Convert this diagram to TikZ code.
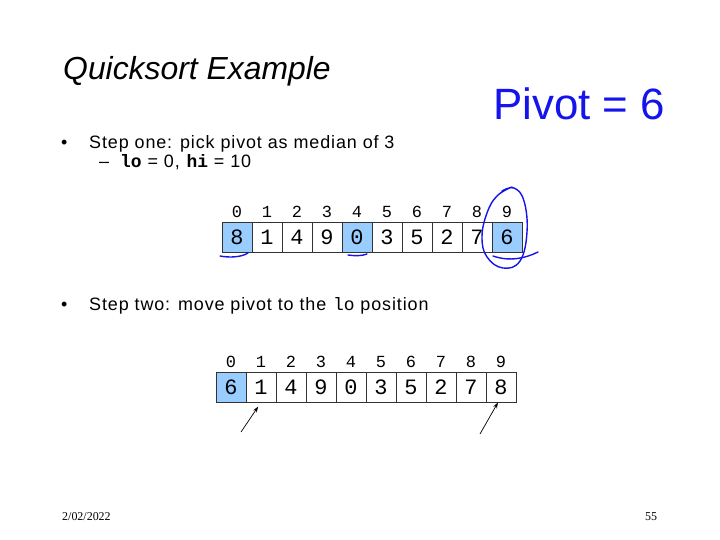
\documentclass[tikz,border=0pt]{standalone}
\usepackage{fontspec}
\setmainfont{Liberation Sans}
\setmonofont{Liberation Mono}
\newfontfamily\bodyfont[LetterSpace=5]{Liberation Sans}
\newfontfamily\datefont{Liberation Serif}
\usetikzlibrary{arrows.meta}
\definecolor{pivotblue}{RGB}{153,204,255}
\definecolor{inkblue}{RGB}{20,20,235}

\tikzset{
  cell/.style={draw=black!80, line width=0.8bp, minimum size=30bp, inner sep=0pt,
    font=\fontsize{22}{22}\selectfont\ttfamily},
  idx/.style={inner sep=0pt, font=\fontsize{17}{17}\selectfont\ttfamily},
  ink/.style={draw=inkblue, line width=1.4bp, line cap=round, line join=round},
  pointer/.style={draw=black, line width=0.7bp, -{Stealth[length=6bp,width=4bp]}},
}

\begin{document}
\begin{tikzpicture}[x=1bp,y=-1bp]
  \useasboundingbox (0,0) rectangle (720,540);

  \node[anchor=base west, inner sep=0pt, font=\fontsize{32}{38}\selectfont\itshape]
    (title) at (63,80) {Quicksort Example};

  \begin{scope}[every node/.style={anchor=base west, inner sep=0pt,
      font=\fontsize{18}{22}\selectfont\bodyfont}]
    \node (dot1)  at (61,148.5)  {\textbullet};
    \node (step1) at (89,148.5)  {Step one: pick pivot as median of 3};
    \node (dash1) at (99,168)    {\textendash};
    \node (sub1)  at (120,168)   {\texttt{\bfseries lo} = 0, \texttt{\bfseries hi} = 10};
    \node (dot2)  at (61,310)    {\textbullet};
    \node (step2) at (89,310)    {Step two: move pivot to the \texttt{lo} position};
  \end{scope}

  % first array, pivot candidates shaded
  \foreach \v/\c [count=\i from 0] in {8/pivotblue,1/white,4/white,9/white,0/pivotblue,
      3/white,5/white,2/white,7/white,6/pivotblue} {
    \node[cell, fill=\c] (a\i) at (237+30*\i,237) {\v};
    \node[idx] (ia\i) at (237+30*\i,212) {\i};
  }

  % second array, pivot swapped to lo
  \foreach \v/\c [count=\i from 0] in {6/pivotblue,1/white,4/white,9/white,0/white,
      3/white,5/white,2/white,7/white,8/white} {
    \node[cell, fill=\c] (b\i) at (231+30*\i,387) {\v};
    \node[idx] (ib\i) at (231+30*\i,362) {\i};
  }

  \coordinate (t1) at (241,432);
  \coordinate (t2) at (480,434);
  \draw[pointer, shorten >=5bp] (t1) -- (b1.south);
  \draw[pointer] (t2) -- ([xshift=-3bp]b9.south);

  % handwritten notes
  \node[anchor=base west, inner sep=0pt, text=inkblue, font=\fontsize{44}{44}\selectfont]
    (note) at (493,120) {Pivot = 6};
  \draw[ink] plot[smooth, tension=0.7] coordinates {(512,187) (497,196) (487,213) (482,237)
    (487,257) (503,268) (520,261) (527,232) (524,201) (514,188) (502,191)};
  \draw[ink] (493,256) .. controls (510,262) and (526,258) .. (538,252);
  \draw[ink] (220,256) .. controls (230,258) and (242,257) .. (248,253);
  \draw[ink] (348,255) .. controls (355,256) and (362,256) .. (367,254);

  \node[anchor=base west, inner sep=0pt, font=\fontsize{12}{14}\selectfont\datefont]
    (date) at (62,520) {2/02/2022};
  \node[anchor=base west, inner sep=0pt, font=\fontsize{12}{14}\selectfont\datefont]
    (page) at (645,520) {55};
\end{tikzpicture}
\end{document}
